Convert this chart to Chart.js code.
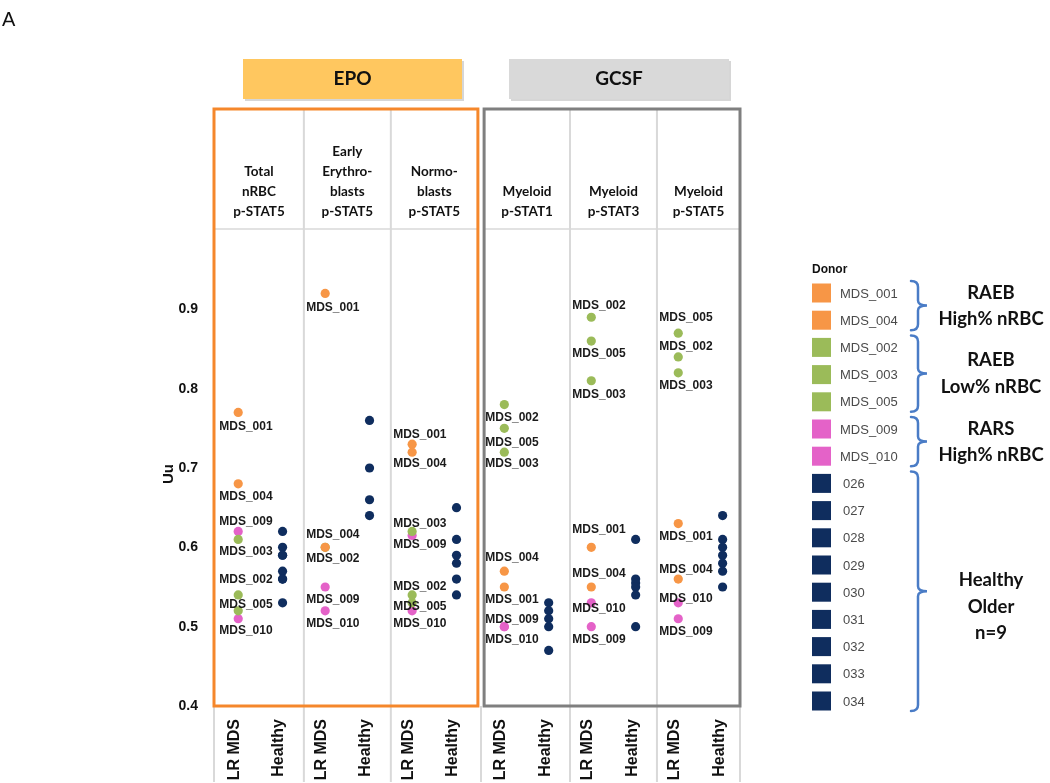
<!DOCTYPE html>
<html><head><meta charset="utf-8">
<script src="https://cdn.jsdelivr.net/npm/chart.js@4.4.1/dist/chart.umd.min.js"></script>
<style>html,body{margin:0;padding:0;background:#fff;}canvas{display:block;}</style>
</head><body>
<canvas id="c" width="1050" height="783"></canvas>
<script>
// ---------- DATA ----------
const stimuli = ['EPO', 'GCSF'];
const panelHeaders = [
  ['Total', 'nRBC', 'p-STAT5'],
  ['Early', 'Erythro-', 'blasts', 'p-STAT5'],
  ['Normo-', 'blasts', 'p-STAT5'],
  ['Myeloid', 'p-STAT1'],
  ['Myeloid', 'p-STAT3'],
  ['Myeloid', 'p-STAT5']
];
const groupNames = ['LR MDS', 'Healthy'];
const yTicks = [0.4, 0.5, 0.6, 0.7, 0.8, 0.9];
const yTitle = 'Uu';

const donorIds = ['MDS_001', 'MDS_004', 'MDS_002', 'MDS_003', 'MDS_005', 'MDS_009', 'MDS_010'];
// values per panel (Total nRBC, Early Erythroblasts, Normoblasts, Myeloid STAT1, STAT3, STAT5)
const MDS_001 = [0.77, 0.92, 0.73, 0.55, 0.60, 0.63];
const MDS_004 = [0.68, 0.60, 0.72, 0.57, 0.55, 0.56];
const MDS_002 = [0.54, 0.60, 0.54, 0.78, 0.89, 0.84];
const MDS_003 = [0.61, null, 0.62, 0.72, 0.81, 0.82];
const MDS_005 = [0.52, null, 0.53, 0.75, 0.86, 0.87];
const MDS_009 = [0.62, 0.55, 0.615, 0.50, 0.50, 0.51];
const MDS_010 = [0.51, 0.52, 0.52, 0.50, 0.53, 0.53];
const donorValues = [MDS_001, MDS_004, MDS_002, MDS_003, MDS_005, MDS_009, MDS_010];

const healthyIds = ['026', '027', '028', '029', '030', '031', '032', '033', '034'];
const healthyTotalNRBC = [0.62, 0.60, 0.59, 0.59, 0.57, 0.56, 0.56, 0.53];
const healthyEarlyEry = [0.76, 0.70, 0.66, 0.64];
const healthyNormoblasts = [0.65, 0.61, 0.59, 0.58, 0.56, 0.54];
const healthyMyeloidSTAT1 = [0.53, 0.52, 0.51, 0.50, 0.47];
const healthyMyeloidSTAT3 = [0.61, 0.56, 0.555, 0.55, 0.54, 0.50];
const healthyMyeloidSTAT5 = [0.64, 0.61, 0.60, 0.59, 0.58, 0.57, 0.55];
const healthyValues = [healthyTotalNRBC, healthyEarlyEry, healthyNormoblasts,
  healthyMyeloidSTAT1, healthyMyeloidSTAT3, healthyMyeloidSTAT5];

const groupLabels = [
  { lines: ['RAEB', 'High% nRBC'], rows: [0, 1] },
  { lines: ['RAEB', 'Low% nRBC'], rows: [2, 4] },
  { lines: ['RARS', 'High% nRBC'], rows: [5, 6] },
  { lines: ['Healthy', 'Older', 'n=9'], rows: [7, 15] }
];

// ---------- STYLE ----------
const donorColors = {
  MDS_001: '#F79646', MDS_004: '#F79646',
  MDS_002: '#9BBB59', MDS_003: '#9BBB59', MDS_005: '#9BBB59',
  MDS_009: '#E462C8', MDS_010: '#E462C8'
};
const healthyColor = '#0F2D5E';
// vertical offset (px) of each point label from its point, per panel
const labelDy = {
  MDS_001: [14, 14, -10, 13, -18, 13],
  MDS_004: [13, -13, 12, -13, -13, -9],
  MDS_002: [-15, 11, -8, 13, -12, -10],
  MDS_003: [12, 0, -8, 12, 14, 13],
  MDS_005: [-6, 0, 4, 14, 13, -15],
  MDS_009: [-10, 13, 9, -7, 13, 13],
  MDS_010: [12, 13, 13, 13, 6, -4]
};
const GAP = 0.12, LR_OFF = 0.58, H_OFF = 1.6, DIV_OFF = 0.09;
function panelStart(p) { return 2 * p + (p >= 3 ? GAP : 0); }

// ---------- DATASETS ----------
const datasets = [];
donorIds.forEach((id, k) => {
  const pts = [];
  donorValues[k].forEach((v, p) => { if (v != null) pts.push({ x: panelStart(p) + LR_OFF, y: v, p: p }); });
  datasets.push({ label: id, data: pts, backgroundColor: donorColors[id], borderWidth: 0, pointRadius: 4.6 });
});
const hPts = [];
healthyValues.forEach((arr, p) => arr.forEach(v => hPts.push({ x: panelStart(p) + H_OFF, y: v, p: p })));
datasets.push({ label: 'Healthy', data: hPts, backgroundColor: healthyColor, borderWidth: 0, pointRadius: 4.6 });

const xTickValues = [];
for (let p = 0; p < 6; p++) { xTickValues.push(panelStart(p) + LR_OFF - 0.08, panelStart(p) + H_OFF - 0.08); }

// ---------- PLUGINS ----------
const decor = {
  id: 'decor',
  beforeDatasetsDraw(chart) {
    const ctx = chart.ctx, xs = chart.scales.x, ca = chart.chartArea;
    const px = v => xs.getPixelForValue(v);
    const boxTop = 109, bot = ca.bottom;
    ctx.save();
    // "A"
    ctx.fillStyle = '#111'; ctx.font = '20px Arial'; ctx.textBaseline = 'middle'; ctx.textAlign = 'left';
    ctx.fillText('A', 2, 20);
    // stimulus header boxes
    const heads = [
      { l: 243, r: 462, fill: '#FFC75F', text: stimuli[0] },
      { l: 509, r: 729, fill: '#D9D9D9', text: stimuli[1] }
    ];
    heads.forEach(h => {
      ctx.fillStyle = 'rgba(0,0,0,0.16)';
      ctx.fillRect(h.l + 2, 61, h.r - h.l, 40);
      ctx.fillStyle = h.fill;
      ctx.fillRect(h.l, 59, h.r - h.l, 40);
      ctx.fillStyle = '#111'; ctx.font = 'bold 19px Lato'; ctx.textAlign = 'center';
      ctx.fillText(h.text, (h.l + h.r) / 2, 79);
    });
    // box edges and panel dividers
    const L1 = px(0) + 1, R1 = px(6) + 4, L2 = px(6 + GAP) + 5, R2 = ca.right;
    const divs = [1, 2, 4, 5].map(p => px(panelStart(p) + DIV_OFF));
    const cells = [[L1, divs[0]], [divs[0], divs[1]], [divs[1], R1], [L2, divs[2]], [divs[2], divs[3]], [divs[3], R2]];
    ctx.strokeStyle = '#D9D9D9'; ctx.lineWidth = 2;
    divs.forEach(x => { ctx.beginPath(); ctx.moveTo(x, boxTop); ctx.lineTo(x, 782); ctx.stroke(); });
    [L1, (R1 + L2) / 2, R2].forEach(x => { ctx.beginPath(); ctx.moveTo(x, bot); ctx.lineTo(x, 782); ctx.stroke(); });
    // header separator
    ctx.lineWidth = 1.5;
    ctx.beginPath(); ctx.moveTo(L1, 229); ctx.lineTo(R1, 229);
    ctx.moveTo(L2, 229); ctx.lineTo(R2, 229); ctx.stroke();
    // panel headers
    ctx.fillStyle = '#111'; ctx.font = 'bold 13.5px Lato'; ctx.textAlign = 'center'; ctx.textBaseline = 'middle';
    panelHeaders.forEach((lines, p) => {
      const cx = (cells[p][0] + cells[p][1]) / 2;
      lines.forEach((t, i) => ctx.fillText(t, cx, 212 - (lines.length - 1 - i) * 20));
    });
    // outer boxes
    ctx.lineWidth = 3;
    ctx.strokeStyle = '#F5872B';
    ctx.strokeRect(L1, boxTop, R1 - L1, bot - boxTop);
    ctx.strokeStyle = '#7F7F7F';
    ctx.strokeRect(L2, boxTop, R2 - L2, bot - boxTop);
    // y title
    ctx.save();
    ctx.translate(169, (ca.top + ca.bottom) / 2 + 6);
    ctx.rotate(-Math.PI / 2);
    ctx.font = 'bold 15px Arial'; ctx.fillStyle = '#111'; ctx.textAlign = 'center'; ctx.textBaseline = 'middle';
    ctx.fillText(yTitle, 0, 0);
    ctx.restore();
    ctx.restore();
  },
  afterDatasetsDraw(chart) {
    const ctx = chart.ctx;
    ctx.save();
    // point labels
    ctx.font = 'bold 12px Arial'; ctx.fillStyle = '#1a1a1a'; ctx.textAlign = 'left'; ctx.textBaseline = 'middle';
    donorIds.forEach((id, k) => {
      const meta = chart.getDatasetMeta(k);
      meta.data.forEach((el, i) => {
        const raw = chart.data.datasets[k].data[i];
        ctx.fillText(id, el.x - 19, el.y + labelDy[id][raw.p]);
      });
    });
    // legend
    const rowY = i => 293 + 27.2 * i;
    ctx.font = 'bold 12px Arial'; ctx.fillStyle = '#111';
    ctx.fillText('Donor', 812, 270);
    const rows = [];
    donorIds.forEach(id => rows.push({ t: id, c: donorColors[id], x: 840 }));
    healthyIds.forEach(id => rows.push({ t: id, c: healthyColor, x: 843 }));
    ctx.font = '13px Arial';
    rows.forEach((r, i) => {
      const y = rowY(i);
      ctx.fillStyle = r.c; ctx.fillRect(812, y - 9.5, 19, 19);
      ctx.fillStyle = '#4a4a4a'; ctx.fillText(r.t, r.x, y + 1);
    });
    // braces + group labels
    ctx.strokeStyle = '#4A7CC6'; ctx.lineWidth = 2.5; ctx.lineCap = 'round';
    groupLabels.forEach(g => {
      const y1 = rowY(g.rows[0]) - 12, y2 = rowY(g.rows[1]) + 10, ym = (y1 + y2) / 2, x0 = 918;
      ctx.beginPath();
      ctx.moveTo(x0 - 7, y1);
      ctx.quadraticCurveTo(x0, y1, x0, y1 + 6);
      ctx.lineTo(x0, ym - 5);
      ctx.quadraticCurveTo(x0, ym, x0 + 9, ym);
      ctx.quadraticCurveTo(x0, ym, x0, ym + 5);
      ctx.lineTo(x0, y2 - 6);
      ctx.quadraticCurveTo(x0, y2, x0 - 7, y2);
      ctx.stroke();
      ctx.font = 'bold 18.5px Lato'; ctx.fillStyle = '#111'; ctx.textAlign = 'center';
      const n = g.lines.length, lh = 26.5;
      const span = g.rows[1] - g.rows[0];
      const startY = span > 3 ? ym - 11 : rowY(g.rows[0]) + (span === 2 ? 13 : 0);
      g.lines.forEach((t, i) => ctx.fillText(t, 991, startY + i * lh));
      ctx.textAlign = 'left';
    });
    ctx.restore();
  }
};

new Chart(document.getElementById('c'), {
  type: 'scatter',
  data: { datasets: datasets },
  options: {
    responsive: false, animation: false, devicePixelRatio: 1, events: [],
    layout: { padding: { left: 153, right: 310, top: 230, bottom: 0 } },
    plugins: { legend: { display: false }, tooltip: { enabled: false } },
    scales: {
      x: {
        type: 'linear', min: 0, max: 12 + GAP,
        grid: { display: false }, border: { display: false },
        afterBuildTicks: s => { s.ticks = xTickValues.map(v => ({ value: v })); },
        afterFit: s => { s.height = 77; },
        ticks: {
          autoSkip: false, maxRotation: 90, minRotation: 90, padding: 5,
          color: '#111', font: { family: 'Arial', weight: 'bold', size: 16 },
          callback: (v, i) => groupNames[i % 2]
        }
      },
      y: {
        min: 0.4, max: 1.0,
        grid: { display: false, drawTicks: false }, border: { display: false },
        afterBuildTicks: s => { s.ticks = yTicks.map(v => ({ value: v })); },
        afterFit: s => { s.width = 60; },
        ticks: {
          padding: 15, color: '#111', font: { family: 'Arial', weight: 'bold', size: 14 },
          callback: v => v.toFixed(1)
        }
      }
    }
  },
  plugins: [decor]
});
</script>
</body></html>
